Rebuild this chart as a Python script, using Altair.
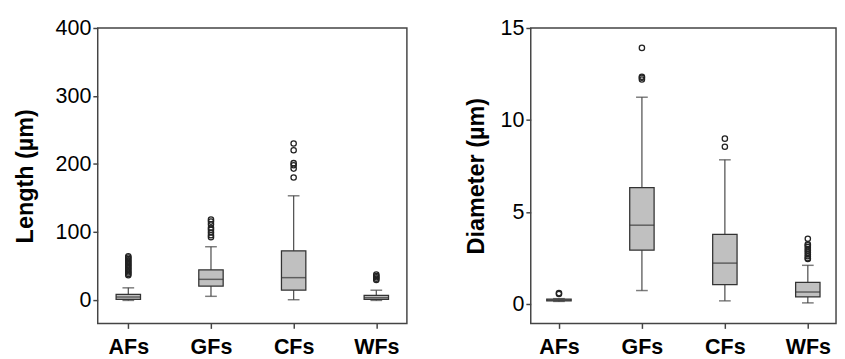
import altair as alt
import pandas as pd

categories = ["AFs", "GFs", "CFs", "WFs"]

# Length (µm) box statistics
len_low = [-1, 5, 0, -1]
len_q1 = [0.5, 20, 14, 0.5]
len_median = [4, 30, 32.5, 3]
len_q3 = [8, 44, 72, 6.5]
len_high = [17.5, 78, 153, 14]
len_out_afs = [36, 38, 40, 42, 44, 46, 48, 50, 52, 54, 56, 58, 60, 62, 64]
len_out_gfs = [92, 95, 99, 103, 106, 111, 115, 118]
len_out_cfs = [180, 193, 198, 201, 220, 230]
len_out_wfs = [29, 31, 33, 35, 37]

# Diameter (µm) box statistics
dia_low = [0.15, 0.74, 0.18, 0.07]
dia_q1 = [0.18, 2.93, 1.06, 0.39]
dia_median = [0.22, 4.29, 2.23, 0.66]
dia_q3 = [0.28, 6.33, 3.79, 1.19]
dia_high = [0.3, 11.24, 7.84, 2.11]
dia_out_afs = [0.55, 0.6]
dia_out_gfs = [12.2, 12.3, 12.35, 13.92]
dia_out_cfs = [8.55, 8.99]
dia_out_wfs = [2.45, 2.5, 2.6, 2.7, 2.8, 2.9, 3.0, 3.1, 3.2, 3.25, 3.55]

FONT = "Liberation Sans"


def stats_df(lo, q1, med, q3, hi):
    return pd.DataFrame({"cat": categories, "lo": lo, "q1": q1, "med": med, "q3": q3, "hi": hi})


def out_df(lists):
    rows = []
    for c, vals in zip(categories, lists):
        for v in vals:
            rows.append({"cat": c, "v": v})
    return pd.DataFrame(rows)


def panel(st, outs, title, domain, ticks, pad, width, title_pad):
    xenc = alt.X(
        "cat:N", sort=categories, title=None,
        scale=alt.Scale(type="point", padding=pad),
        axis=alt.Axis(labelAngle=0, labelFontSize=22, labelFontWeight="bold", labelFont=FONT,
                      labelColor="black", tickSize=5, tickColor="#444", tickWidth=1.5,
                      labelPadding=9, domain=False, grid=False),
    )
    ysc = alt.Scale(domain=domain, nice=False, zero=False)
    yax = alt.Axis(values=ticks, labelFontSize=22, labelFont=FONT, labelColor="black",
                   tickSize=5, tickColor="#444", tickWidth=1.5, labelPadding=2,
                   domain=False, grid=False, titleFontSize=24, titleFontWeight="bold",
                   titleFont=FONT, titleColor="black", titlePadding=title_pad)

    def Y(f):
        return alt.Y(f + ":Q", scale=ysc, axis=yax, title=title)

    base = alt.Chart(st)
    whisk = base.mark_rule(color="#555", strokeWidth=1.3).encode(x=xenc, y=Y("lo"), y2="hi")
    caps_lo = base.mark_tick(color="#444", size=12, thickness=1.5).encode(x=xenc, y=Y("lo"))
    caps_hi = base.mark_tick(color="#444", size=12, thickness=1.5).encode(x=xenc, y=Y("hi"))
    box = base.mark_bar(size=25, fill="#c0c0c0", stroke="#333", strokeWidth=1.3).encode(
        x=xenc, y=Y("q1"), y2="q3")
    med = base.mark_tick(color="#333", size=25, thickness=1.5).encode(x=xenc, y=Y("med"))
    pts = alt.Chart(outs).mark_point(shape="circle", filled=False, size=30, color="#222",
                                     strokeWidth=1.3, opacity=1).encode(x=xenc, y=Y("v"))
    return alt.layer(whisk, caps_lo, caps_hi, box, med, pts).properties(width=width, height=303)


left = panel(stats_df(len_low, len_q1, len_median, len_q3, len_high),
             out_df([len_out_afs, len_out_gfs, len_out_cfs, len_out_wfs]),
             "Length (µm)", [-35, 400], [0, 100, 200, 300, 400], 0.37, 317, 18)
right = panel(stats_df(dia_low, dia_q1, dia_median, dia_q3, dia_high),
              out_df([dia_out_afs, dia_out_gfs, dia_out_cfs, dia_out_wfs]),
              "Diameter (µm)", [-1.05, 15], [0, 5, 10, 15], 0.34, 313, 12)

chart = alt.hconcat(left, right, spacing=57).properties(
    padding={"left": 5, "top": 4, "right": 0, "bottom": 0}, background="white"
).configure_view(stroke="#444", strokeWidth=1.5)

chart.save("out.html", embed_options={"renderer": "svg", "actions": False})
